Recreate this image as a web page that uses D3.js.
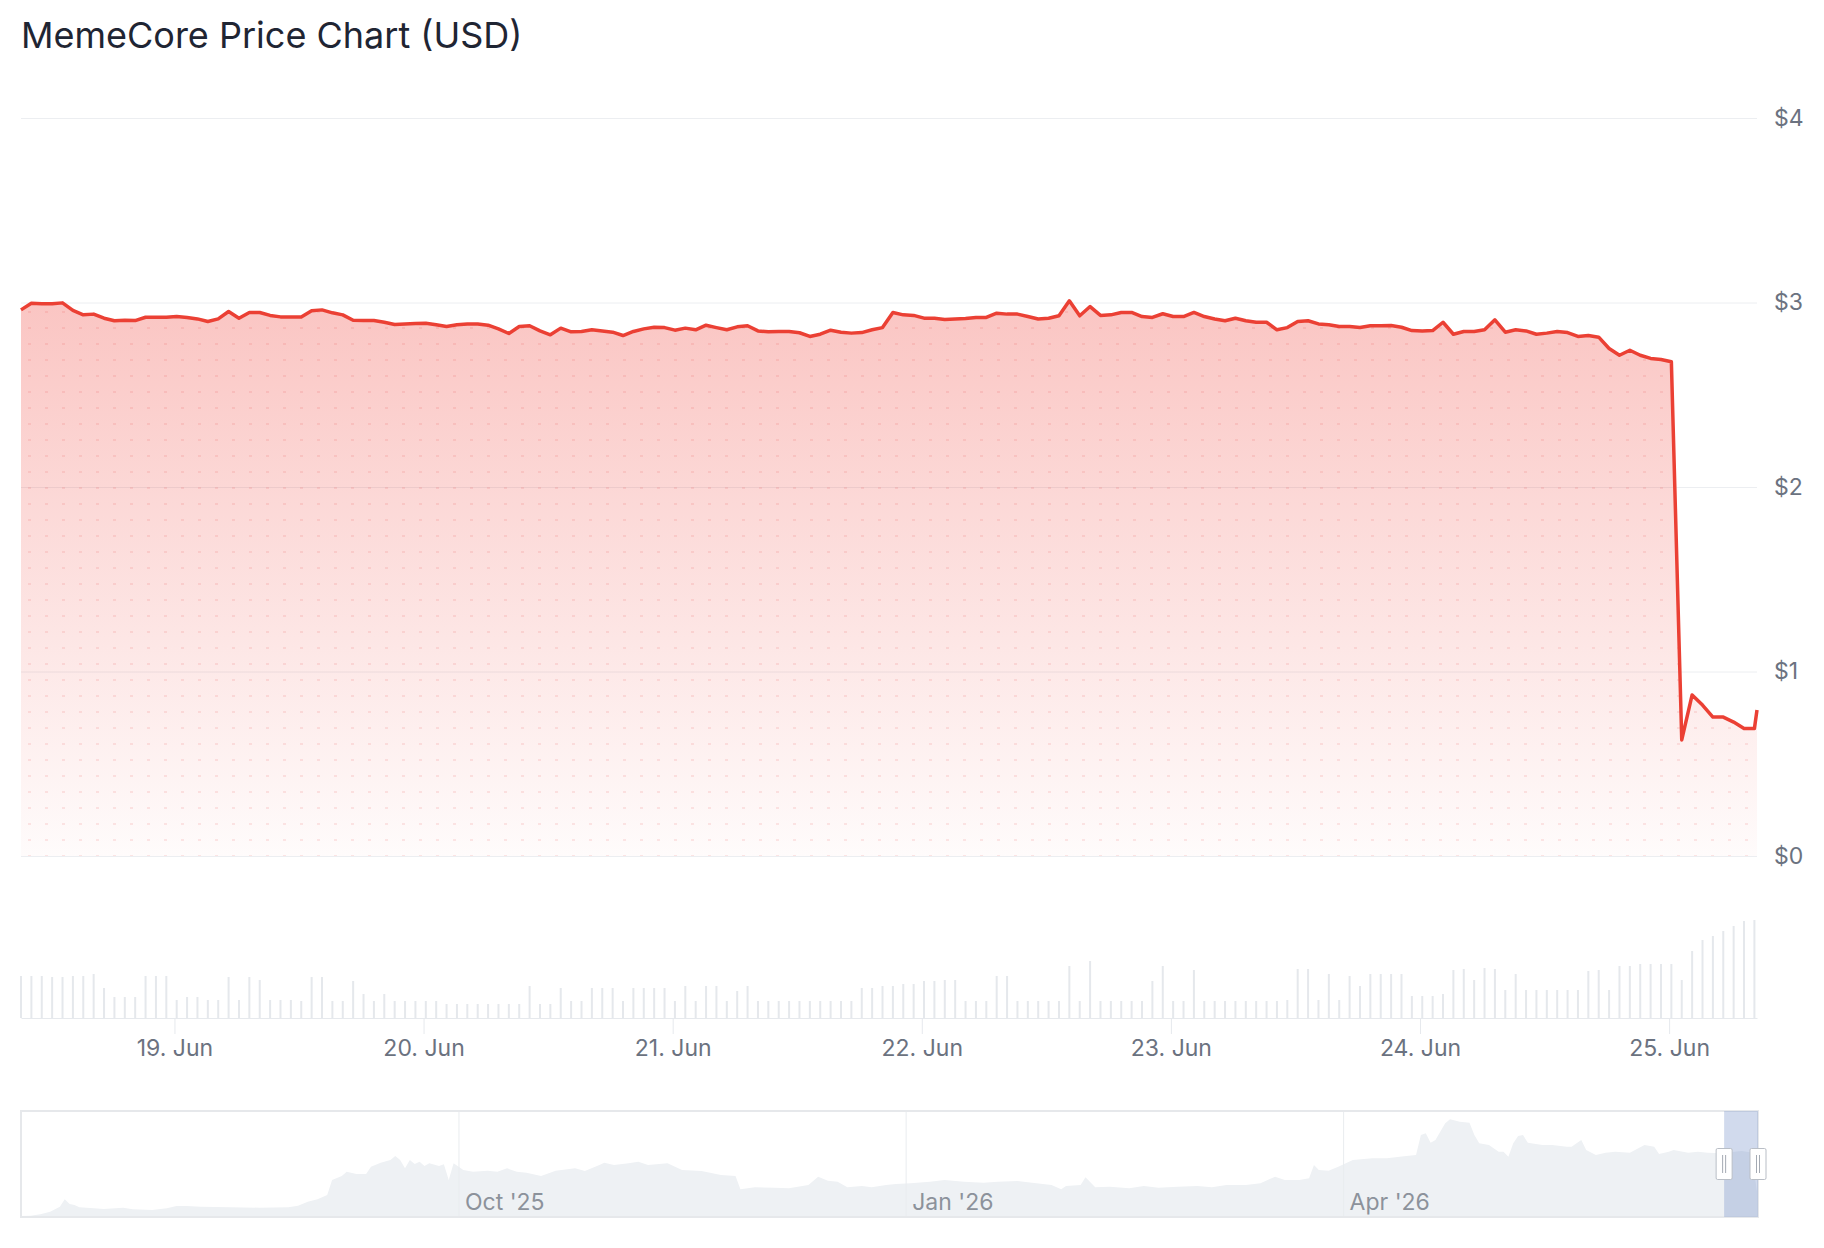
<!DOCTYPE html>
<html>
<head>
<meta charset="utf-8">
<script src="https://cdn.jsdelivr.net/npm/d3@7"></script>
<style>
  body { margin: 0; background: #fff; }
  svg { display: block; font-family: Inter, "Noto Sans", sans-serif; }
</style>
</head>
<body>
<div id="chart-area"></div>
<script>
// hourly MemeCore price (USD), first point 18 Jun 2026 09:13 UTC, last one is the live tick
const startTime = Date.UTC(2026, 5, 18, 9, 13);
const lastTickTime = Date.UTC(2026, 5, 25, 8, 28);

const prices = [
  2.960, 2.996, 2.993, 2.993, 2.998, 2.957, 2.933, 2.937, 2.915, 2.901,
  2.904, 2.902, 2.920, 2.920, 2.920, 2.924, 2.919, 2.911, 2.897, 2.911,
  2.951, 2.915, 2.946, 2.946, 2.930, 2.922, 2.922, 2.922, 2.955, 2.960,
  2.944, 2.933, 2.904, 2.902, 2.902, 2.893, 2.881, 2.884, 2.886, 2.888,
  2.879, 2.870, 2.879, 2.883, 2.884, 2.877, 2.857, 2.832, 2.870, 2.874,
  2.846, 2.825, 2.861, 2.841, 2.843, 2.852, 2.846, 2.839, 2.821, 2.843,
  2.857, 2.866, 2.864, 2.850, 2.861, 2.852, 2.877, 2.864, 2.852, 2.868,
  2.874, 2.846, 2.841, 2.843, 2.843, 2.836, 2.816, 2.828, 2.850, 2.839,
  2.834, 2.837, 2.852, 2.864, 2.946, 2.933, 2.930, 2.915, 2.915, 2.908,
  2.910, 2.913, 2.919, 2.919, 2.942, 2.937, 2.937, 2.924, 2.911, 2.915,
  2.928, 3.009, 2.928, 2.978, 2.930, 2.933, 2.946, 2.946, 2.924, 2.919,
  2.939, 2.924, 2.924, 2.946, 2.924, 2.911, 2.901, 2.915, 2.901, 2.893,
  2.893, 2.852, 2.864, 2.897, 2.901, 2.884, 2.879, 2.870, 2.870, 2.864,
  2.874, 2.874, 2.875, 2.866, 2.848, 2.846, 2.848, 2.893, 2.828, 2.843,
  2.843, 2.852, 2.906, 2.839, 2.852, 2.846, 2.828, 2.834, 2.843, 2.837,
  2.816, 2.821, 2.812, 2.751, 2.714, 2.741, 2.714, 2.697, 2.691, 2.679,
  0.629, 0.873, 0.818, 0.753, 0.753, 0.726, 0.691, 0.691
];
const lastTickPrice = 0.791;

// hourly volume, millions USD
const volumes = [
  4.2, 4.2, 4.2, 4.1, 4.1, 4.2, 4.2, 4.4, 3.0, 2.1, 2.1, 2.1, 4.2, 4.2, 4.2,
  1.8, 2.1, 2.1, 1.8, 1.8, 4.1, 1.8, 4.1, 3.8, 1.8, 1.8, 1.8, 1.7, 4.1, 4.1,
  1.7, 1.7, 3.7, 2.4, 1.7, 2.4, 1.7, 1.7, 1.7, 1.7, 1.7, 1.4, 1.4, 1.4, 1.4,
  1.4, 1.4, 1.4, 1.4, 3.2, 1.4, 1.4, 3.0, 1.7, 1.7, 3.0, 3.0, 3.0, 1.7, 3.0,
  3.0, 3.0, 3.0, 1.7, 3.2, 1.7, 3.2, 3.2, 1.7, 2.7, 3.2, 1.7, 1.7, 1.7, 1.7,
  1.7, 1.7, 1.7, 1.7, 1.7, 1.7, 3.0, 3.0,
  3.2, 3.2, 3.4, 3.4, 3.7, 3.7, 3.8, 3.8, 1.7, 1.7, 1.7, 4.2, 4.2, 1.7, 1.7,
  1.7, 1.7, 1.7, 5.2, 1.7, 5.7, 1.7, 1.7, 1.7, 1.7, 1.7, 3.7, 5.2, 1.7, 1.7,
  4.8, 1.7, 1.7, 1.7, 1.7, 1.7, 1.7, 1.7, 1.7, 1.8, 4.9, 4.9, 1.8, 4.4, 1.8,
  4.2, 3.2, 4.4, 4.4, 4.4, 4.4, 2.2, 2.2, 2.2, 2.4, 4.8, 4.9, 3.8, 5.0, 4.9,
  2.8, 4.4, 2.8, 2.8, 2.8, 2.8, 2.8, 2.8, 4.7, 4.8, 2.8, 5.2, 5.2, 5.4, 5.4,
  5.4, 5.4, 3.8, 6.7, 7.8, 8.2, 8.7, 9.2, 9.7, 9.8
];

const priceTicks = [0, 1, 2, 3, 4];

// navigator: full history, price USD
const navDates = [
  "2025-07-03", "2025-07-05", "2025-07-07", "2025-07-09", "2025-07-11", "2025-07-12",
  "2025-07-13", "2025-07-14", "2025-07-15", "2025-07-18", "2025-07-20", "2025-07-24",
  "2025-07-26", "2025-07-30", "2025-08-02", "2025-08-04", "2025-08-06", "2025-08-09",
  "2025-08-15", "2025-08-21", "2025-08-27", "2025-08-29", "2025-08-31", "2025-09-02",
  "2025-09-04", "2025-09-05", "2025-09-07", "2025-09-08", "2025-09-10", "2025-09-12",
  "2025-09-13", "2025-09-15", "2025-09-17", "2025-09-18", "2025-09-19", "2025-09-20",
  "2025-09-21", "2025-09-22", "2025-09-23", "2025-09-24", "2025-09-25", "2025-09-27",
  "2025-09-28", "2025-09-29", "2025-09-30", "2025-10-02", "2025-10-04", "2025-10-07",
  "2025-10-09", "2025-10-11", "2025-10-13", "2025-10-15", "2025-10-18", "2025-10-21",
  "2025-10-25", "2025-10-27", "2025-10-30", "2025-10-31", "2025-11-02", "2025-11-05",
  "2025-11-07", "2025-11-09", "2025-11-13", "2025-11-16", "2025-11-20", "2025-11-24",
  "2025-11-27", "2025-11-28", "2025-12-01", "2025-12-05", "2025-12-08", "2025-12-12",
  "2025-12-14", "2025-12-16", "2025-12-18", "2025-12-20", "2025-12-23", "2025-12-25",
  "2025-12-28", "2025-12-30", "2026-01-02", "2026-01-06", "2026-01-09", "2026-01-13",
  "2026-01-17", "2026-01-20", "2026-01-24", "2026-01-27", "2026-01-31", "2026-02-02",
  "2026-02-03", "2026-02-06", "2026-02-07", "2026-02-09", "2026-02-12", "2026-02-16",
  "2026-02-19", "2026-02-22", "2026-02-26", "2026-03-02", "2026-03-05", "2026-03-08",
  "2026-03-12", "2026-03-15", "2026-03-18", "2026-03-20", "2026-03-23", "2026-03-25",
  "2026-03-26", "2026-03-27", "2026-03-29", "2026-03-31", "2026-04-03", "2026-04-07",
  "2026-04-10", "2026-04-14", "2026-04-16", "2026-04-17", "2026-04-18", "2026-04-19",
  "2026-04-20", "2026-04-22", "2026-04-23", "2026-04-25", "2026-04-27", "2026-04-28",
  "2026-04-29", "2026-05-01", "2026-05-03", "2026-05-04", "2026-05-05", "2026-05-06",
  "2026-05-07", "2026-05-08", "2026-05-09", "2026-05-12", "2026-05-14", "2026-05-17",
  "2026-05-18", "2026-05-20", "2026-05-21", "2026-05-23", "2026-05-25", "2026-05-27",
  "2026-05-30", "2026-06-02", "2026-06-04", "2026-06-05", "2026-06-07", "2026-06-08",
  "2026-06-11", "2026-06-13", "2026-06-15", "2026-06-18", "2026-06-20", "2026-06-22",
  "2026-06-24", "2026-06-25"
];
const navValues = [
  0.044, 0.059, 0.118, 0.236, 0.457, 0.781,
  0.575, 0.531, 0.428, 0.383, 0.354, 0.413,
  0.339, 0.310, 0.383, 0.487, 0.487, 0.457,
  0.428, 0.413, 0.428, 0.501, 0.678, 0.781,
  0.973, 1.636, 1.813, 2.005, 1.902, 1.902,
  2.226, 2.403, 2.521, 2.698, 2.521, 2.153,
  2.521, 2.343, 2.447, 2.255, 2.374, 2.255,
  2.329, 1.636, 2.374, 2.078, 2.005, 2.049,
  2.005, 2.153, 2.005, 1.961, 1.813, 2.049,
  2.153, 2.034, 2.300, 2.403, 2.300, 2.374,
  2.447, 2.300, 2.374, 2.078, 2.034, 1.857,
  1.813, 1.224, 1.312, 1.297, 1.268, 1.415,
  1.784, 1.607, 1.563, 1.312, 1.371, 1.312,
  1.415, 1.460, 1.489, 1.563, 1.636, 1.563,
  1.518, 1.563, 1.592, 1.518, 1.415, 1.224,
  1.371, 1.415, 1.754, 1.312, 1.342, 1.268,
  1.371, 1.297, 1.342, 1.371, 1.312, 1.415,
  1.415, 1.489, 1.784, 1.636, 1.636, 1.710,
  2.300, 2.078, 2.049, 2.226, 2.521, 2.595,
  2.595, 2.698, 2.742, 3.626, 3.700, 3.286,
  3.405, 4.142, 4.319, 4.215, 4.171, 3.626,
  3.257, 3.184, 2.888, 2.888, 2.667, 3.257,
  3.581, 3.626, 3.286, 3.184, 3.184, 3.110,
  3.110, 3.405, 2.961, 2.742, 2.845, 2.888,
  2.845, 3.184, 3.110, 2.786, 2.888, 2.961,
  2.845, 2.888, 2.845, 2.816, 2.880, 2.920,
  2.850, 0.791
];

const HOUR = 3600 * 1000;
const priceData = prices.map((p, i) => ({ t: new Date(startTime + i * HOUR), p: p }));
priceData.push({ t: new Date(lastTickTime), p: lastTickPrice });
const volData = volumes.map((v, i) => ({ t: new Date(startTime + i * HOUR), v: v }));
const navData = navDates.map((d, i) => ({ t: new Date(d + "T00:00:00Z"), v: navValues[i] }));
navData[navData.length - 1].t = new Date(lastTickTime);

// ---- LAYOUT ----
const W = 1824, H = 1248;
const plotLeft = 21, plotRight = 1757;
const priceTop = 118, priceBottom = 856;
const volBottom = 1018, volTop = 918;
const navTop = 1111, navBottom = 1217;
const labelSize = 23;

const svg = d3.select("#chart-area").append("svg")
  .attr("width", W).attr("height", H);

const defs = svg.append("defs");
const grad = defs.append("linearGradient")
  .attr("id", "areaFill")
  .attr("gradientUnits", "userSpaceOnUse")
  .attr("x1", 0).attr("x2", 0);
grad.append("stop").attr("offset", 0).attr("stop-color", "rgba(240,68,60,0.31)");
grad.append("stop").attr("offset", 1).attr("stop-color", "rgba(240,68,60,0.02)");

const pattern = defs.append("pattern")
  .attr("id", "dots")
  .attr("patternUnits", "userSpaceOnUse")
  .attr("width", 17).attr("height", 16)
  .attr("x", plotLeft).attr("y", 0);
pattern.append("rect")
  .attr("x", 7).attr("y", 7).attr("width", 3).attr("height", 2)
  .attr("fill", "rgba(225,50,50,0.11)");

// title
svg.append("text")
  .attr("x", 21).attr("y", 48)
  .attr("font-size", 36)
  .attr("fill", "#1f2533")
  .text("MemeCore Price Chart (USD)");

// ---- SCALES ----
const x = d3.scaleUtc()
  .domain([priceData[0].t, priceData[priceData.length - 1].t])
  .range([plotLeft, plotRight]);
const y = d3.scaleLinear().domain([0, 4]).range([priceBottom, priceTop]);
const yVol = d3.scaleLinear().domain([0, 10]).range([volBottom, volTop]);

grad.attr("y1", y(d3.max(prices))).attr("y2", priceBottom);

// gridlines
const grid = svg.append("g")
  .attr("transform", "translate(" + plotLeft + ",0)")
  .call(d3.axisRight(y).tickValues(priceTicks).tickSize(plotRight - plotLeft).tickFormat(""));
grid.select(".domain").remove();
grid.selectAll("line").attr("stroke", "#eceef1").attr("stroke-width", 1);
grid.selectAll("text").remove();

// y labels
const yAxisGroup = svg.append("g")
  .attr("transform", "translate(" + plotRight + ",0)")
  .call(d3.axisRight(y).tickValues(priceTicks).tickSize(0).tickPadding(17)
    .tickFormat(d => "$" + d));
yAxisGroup.select(".domain").remove();
yAxisGroup.selectAll("text")
  .attr("font-family", "Inter, sans-serif")
  .attr("font-size", labelSize)
  .attr("fill", "#6b7280");

// ---- VOLUME ----
svg.append("g").selectAll("rect")
  .data(volData)
  .enter().append("rect")
  .attr("x", d => x(d.t) - 1)
  .attr("y", d => yVol(d.v))
  .attr("width", 2)
  .attr("height", d => volBottom - yVol(d.v))
  .attr("fill", "#e5e8ec");

// ---- PRICE AREA + LINE ----
const area = d3.area()
  .x(d => x(d.t))
  .y0(priceBottom)
  .y1(d => y(d.p));
svg.append("path").datum(priceData).attr("d", area).attr("fill", "url(#areaFill)");
svg.append("path").datum(priceData).attr("d", area).attr("fill", "url(#dots)");

const line = d3.line().x(d => x(d.t)).y(d => y(d.p));
svg.append("path").datum(priceData)
  .attr("d", line)
  .attr("fill", "none")
  .attr("stroke", "#eb4034")
  .attr("stroke-width", 3.5)
  .attr("stroke-linejoin", "round");

// x axis under volume
const xAxisGroup = svg.append("g")
  .attr("transform", "translate(0," + volBottom + ")")
  .call(d3.axisBottom(x).ticks(d3.utcDay.every(1)).tickFormat(d3.utcFormat("%-d. %b"))
    .tickSize(16).tickSizeOuter(0).tickPadding(6));
xAxisGroup.select(".domain").attr("stroke", "#e6e9ed");
xAxisGroup.selectAll("line").attr("stroke", "#e6e9ed");
xAxisGroup.selectAll("text")
  .attr("font-family", "Inter, sans-serif")
  .attr("font-size", labelSize)
  .attr("fill", "#6b7280");

// ---- NAVIGATOR ----
const navX = d3.scaleUtc()
  .domain([new Date(Date.UTC(2025, 6, 3)), new Date(lastTickTime)])
  .range([plotLeft, plotRight + 1]);
const navY = d3.scaleLinear().domain([0, 4.6]).range([navBottom, navTop + 2]);

const navGrid = svg.append("g")
  .attr("transform", "translate(0," + navTop + ")")
  .call(d3.axisBottom(navX).ticks(d3.utcMonth.every(3)).tickFormat(d3.utcFormat("%b '%y"))
    .tickSize(navBottom - navTop).tickSizeOuter(0).tickPadding(0));
navGrid.select(".domain").remove();
navGrid.selectAll("line").attr("stroke", "#e9ecef");

svg.append("path").datum(navData)
  .attr("d", d3.area().x(d => navX(d.t)).y0(navBottom).y1(d => navY(d.v)))
  .attr("fill", "#eef1f4");

navGrid.raise();
navGrid.selectAll("text")
  .attr("font-family", "Inter, sans-serif")
  .attr("font-size", labelSize)
  .attr("fill", "#8c929b")
  .attr("text-anchor", "start")
  .attr("x", 6)
  .attr("y", navBottom - navTop - 7)
  .attr("dy", 0);

svg.append("rect")
  .attr("x", plotLeft).attr("y", navTop)
  .attr("width", plotRight + 1 - plotLeft).attr("height", navBottom - navTop)
  .attr("fill", "none")
  .attr("stroke", "#e6e8eb")
  .attr("stroke-width", 2);

// selected window
const winL = navX(priceData[0].t), winR = navX(priceData[priceData.length - 1].t);
svg.append("rect")
  .attr("x", winL).attr("y", navTop)
  .attr("width", winR - winL).attr("height", navBottom - navTop)
  .attr("fill", "rgba(102,133,194,0.3)");

[winL, winR].forEach(hx => {
  const h = svg.append("g").attr("transform", "translate(" + hx + "," + (navTop + navBottom) / 2 + ")");
  h.append("rect")
    .attr("x", -8).attr("y", -15.5).attr("width", 16).attr("height", 31).attr("rx", 1.5)
    .attr("fill", "#ffffff").attr("stroke", "#b9bec6").attr("stroke-width", 1);
  [-1.5, 1.5].forEach(gx => {
    h.append("line")
      .attr("x1", gx).attr("x2", gx).attr("y1", -9).attr("y2", 9)
      .attr("stroke", "#a4aab3").attr("stroke-width", 1);
  });
});
</script>
</body>
</html>
